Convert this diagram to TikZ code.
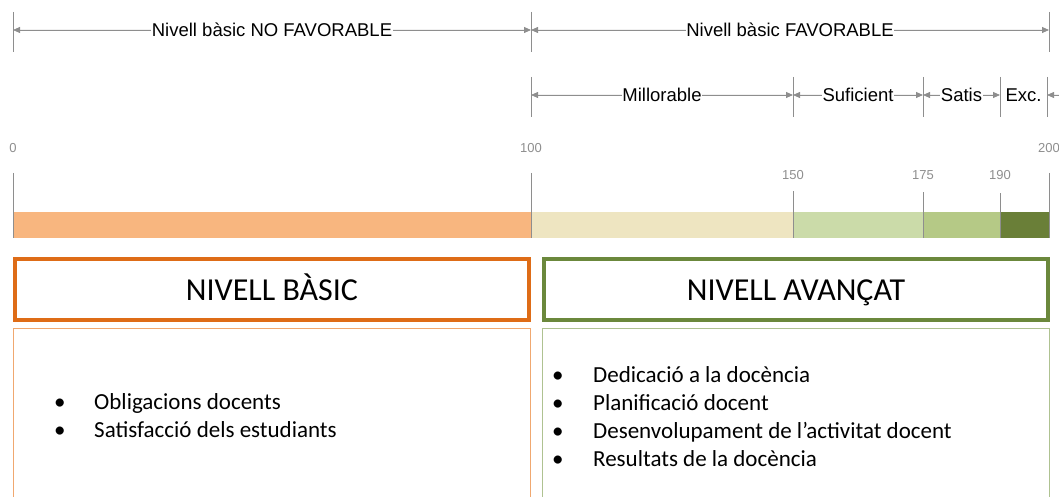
\documentclass[tikz,border=0pt]{standalone}
\usepackage{fontspec}
\setmainfont{Liberation Sans}
\newfontfamily\calibri{Carlito}
\usetikzlibrary{positioning, arrows.meta}

\definecolor{gridgray}{HTML}{8E8E8E}
\definecolor{barorange}{HTML}{F8B67F}
\definecolor{barcream}{HTML}{EEE5C1}
\definecolor{barlight}{HTML}{CBDBA9}
\definecolor{barmid}{HTML}{B5C986}
\definecolor{bardark}{HTML}{6A7F38}
\definecolor{basicorange}{HTML}{DE6C17}
\definecolor{basicthin}{HTML}{F0A870}
\definecolor{advgreen}{HTML}{6B883C}
\definecolor{advthin}{HTML}{AFC291}

\begin{document}
\begin{tikzpicture}[
				x=1pt, y=-1pt,
				tick/.style={draw=gridgray, line width=1pt},
				dim/.style={{Triangle[length=7pt,width=6pt]}-{Triangle[length=7pt,width=6pt]}, draw=gridgray, fill=gridgray, line width=0.8pt},
				dimlabel/.style={fill=white, inner sep=0.5pt, font=\fontsize{18.5}{22}\selectfont},
				scalelabel/.style={text=gridgray, inner sep=0pt, font=\fontsize{13}{15}\selectfont},
				levelbox/.style={draw, line width=4pt, minimum width=514pt, minimum height=61pt, inner sep=0pt, text height=21pt, text depth=0pt, font=\calibri\fontsize{32}{36}\selectfont},
				itemlist/.style={align=left, inner sep=0pt, anchor=base west, font=\calibri\fontsize{23}{28}\selectfont}
			]
			\useasboundingbox (0,0) rectangle (1059,497);

			% Ticks of the upper dimension lines
			\foreach \name/\xx in {a/13, b/531, c/1049} {
				\coordinate (top\name) at (\xx,30);
				\draw[tick] (\xx,12) -- (\xx,52);
			}
			\foreach \name/\xx in {m/531, s/793, t/923, e/1000, f/1047} {
				\coordinate (sub\name) at (\xx,95);
				\draw[tick] (\xx,77) -- (\xx,117);
			}
			\coordinate (subend) at (1059,95);

			% Dimension lines
			\draw[dim] (topa) -- (topb) node[midway, dimlabel] (nofav) {Nivell bàsic NO FAVORABLE};
			\draw[dim] (topb) -- (topc) node[midway, dimlabel] (fav) {Nivell bàsic FAVORABLE};
			\draw[dim] (subm) -- (subs) node[midway, dimlabel] (mill) {Millorable};
			\draw[dim] (subs) -- (subt) node[midway, dimlabel] (suf) {Suficient};
			\draw[dim] (subt) -- (sube) node[midway, dimlabel] (sat) {Satis};
			\node[dimlabel] (exc) at (1023.5,95) {Exc.};
			\draw[draw=gridgray, fill=gridgray, line width=0.8pt, -{Triangle[length=7pt,width=6pt]}] (subend) -- (subf);

			% Scale bar
			\fill[barorange] (13,212) rectangle (531,238);
			\fill[barcream] (531,212) rectangle (793,238);
			\fill[barlight] (793,212) rectangle (923,238);
			\fill[barmid] (923,212) rectangle (1000,238);
			\fill[bardark] (1000,212) rectangle (1049,238);
			\foreach \xx in {13, 531, 1049} \draw[tick] (\xx,173) -- (\xx,238);
			\draw[tick] (793,191) -- (793,238);
			\draw[tick] (923,192) -- (923,238);
			\draw[tick] (1000,193) -- (1000,238);

			% Scale values
			\node[scalelabel] (v0) at (13,148) {0};
			\node[scalelabel] (v100) at (531,148) {100};
			\node[scalelabel] (v200) at (1049,148) {200};
			\node[scalelabel] (v150) at (793,175) {150};
			\node[scalelabel] (v175) at (923,175) {175};
			\node[scalelabel] (v190) at (1000,175) {190};

			% Level boxes
			\node[levelbox, draw=basicorange] (basic) at (272,289.5) {NIVELL BÀSIC};
			\node[levelbox, draw=advgreen, minimum width=504pt] (adv) at (796,289.5) {NIVELL AVANÇAT};

			% Content boxes (open at the bottom)
			\draw[basicthin, line width=1pt] (13.5,505) |- (530.5,328) -- (530.5,505);
			\draw[advthin, line width=1pt] (542.5,505) |- (1049.5,328) -- (1049.5,505);

			\node[itemlist] (basiclist) at (54,409) {%
				\begin{tabular}[t]{@{}l@{}l@{}}
				\makebox[40pt][l]{\textbullet} & Obligacions docents\\
				\textbullet & Satisfacció dels estudiants
				\end{tabular}};
			\node[itemlist] (advlist) at (552,382) {%
				\begin{tabular}[t]{@{}l@{}l@{}}
				\makebox[41pt][l]{\textbullet} & Dedicació a la docència\\
				\textbullet & Planificació docent\\
				\textbullet & Desenvolupament de l’activitat docent\\
				\textbullet & Resultats de la docència
				\end{tabular}};

		\end{tikzpicture}
\end{document}
